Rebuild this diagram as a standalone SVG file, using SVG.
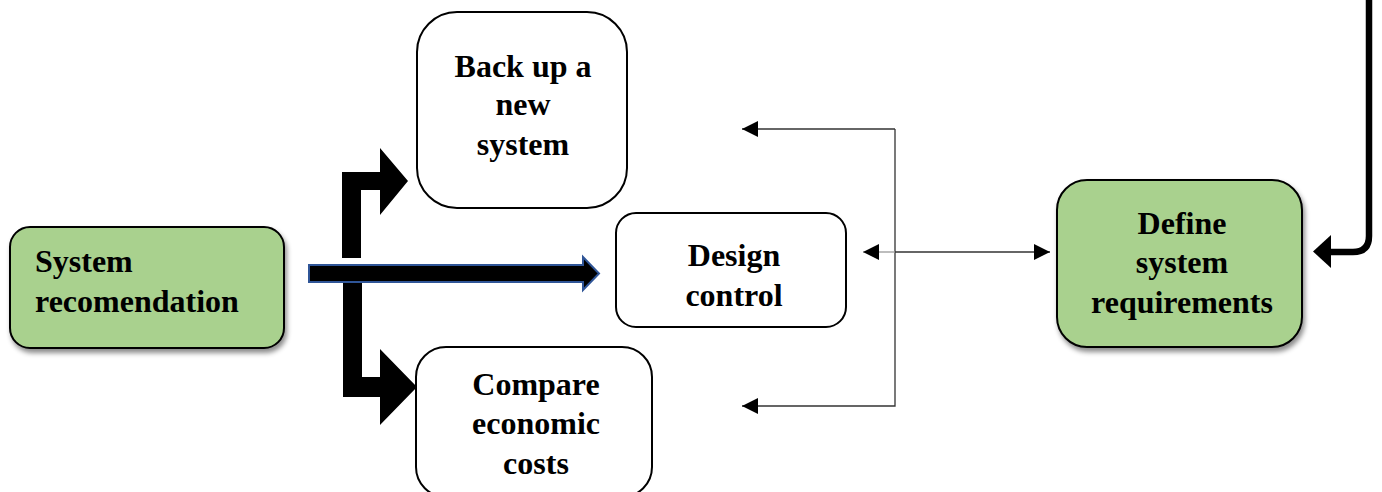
<svg xmlns="http://www.w3.org/2000/svg" width="1382" height="492" viewBox="0 0 1382 492">
  <style>
    .lbl { font-family: "Liberation Serif", "Times New Roman", serif; font-weight: bold; font-size: 32px; fill: #000; }
    .mid { text-anchor: middle; }
    .green { fill: #a9d18e; stroke: #000; stroke-width: 2; }
    .white { fill: #fff; stroke: #000; stroke-width: 2; }
    .thin { fill: none; stroke: #333; stroke-width: 1.3; }
    .thick { fill: #000; stroke: none; }
  </style>
  <defs>
    <filter id="shadow" x="-10%" y="-10%" width="130%" height="140%">
      <feDropShadow dx="2" dy="4" stdDeviation="2.5" flood-color="#000" flood-opacity="0.45"/>
    </filter>
    <marker id="tri" viewBox="0 0 10 10" refX="10" refY="5" markerWidth="16" markerHeight="16" markerUnits="userSpaceOnUse" orient="auto-start-reverse">
      <path d="M0,0 L10,5 L0,10 z" fill="#000"/>
    </marker>
  </defs>

  <rect width="1382" height="492" fill="#fff"/>

  <g id="connectors">
    <!-- thin feedback connectors -->
    <path class="thin" d="M895,129 L742,129" marker-end="url(#tri)"/>
    <path class="thin" d="M895,129 L895,406 L742,406" marker-end="url(#tri)"/>
    <path class="thin" d="M895,252 L1050,252" marker-end="url(#tri)"/>
    <path d="M895,252 L863,252" fill="none" stroke="#999" stroke-width="1.3" marker-end="url(#tri)"/>

    <!-- thick bent arrow to Back up -->
    <path class="thick" d="M342,258 L342,172 L380,172 L380,148 L408,181 L380,215 L380,190 L361,190 L361,258 Z"/>
    <!-- thick bent arrow to Compare -->
    <path class="thick" d="M343,275 L343,397 L380,397 L380,425 L417,387 L380,349 L380,377 L362,377 L362,275 Z"/>
    <!-- blue outlined arrow to Design control -->
    <path d="M309,265 L583,265 L583,257 L599,273.5 L583,290 L583,282 L309,282 Z" fill="#000" stroke="#2f5597" stroke-width="2"/>

    <!-- curved thick arrow from top right into Define -->
    <path d="M1369,0 L1369,236 Q1369,252 1353,252 L1328,252" fill="none" stroke="#000" stroke-width="6.5"/>
    <path class="thick" d="M1331,235 L1313,251.5 L1331,268 Z"/>
  </g>

  <g id="node-system-recomendation">
    <rect class="green" x="10" y="227" width="274" height="121" rx="20" filter="url(#shadow)"/>
    <text class="lbl" x="35" y="272">System</text>
    <text class="lbl" x="35" y="312">recomendation</text>
  </g>

  <g id="node-back-up">
    <rect class="white" x="417" y="12" width="210" height="196" rx="40"/>
    <text class="lbl mid" x="523" y="77">Back up a</text>
    <text class="lbl mid" x="523" y="115">new</text>
    <text class="lbl mid" x="523" y="155">system</text>
  </g>

  <g id="node-design-control">
    <rect class="white" x="616" y="213" width="230" height="114" rx="20"/>
    <text class="lbl mid" x="734" y="266">Design</text>
    <text class="lbl mid" x="734" y="306">control</text>
  </g>

  <g id="node-compare">
    <rect class="white" x="416" y="347" width="236" height="150" rx="30"/>
    <text class="lbl mid" x="536" y="395">Compare</text>
    <text class="lbl mid" x="536" y="434">economic</text>
    <text class="lbl mid" x="536" y="474">costs</text>
  </g>

  <g id="node-define">
    <rect class="green" x="1057" y="180" width="245" height="167" rx="30" filter="url(#shadow)"/>
    <text class="lbl mid" x="1182" y="234">Define</text>
    <text class="lbl mid" x="1182" y="273">system</text>
    <text class="lbl mid" x="1182" y="313">requirements</text>
  </g>
</svg>
